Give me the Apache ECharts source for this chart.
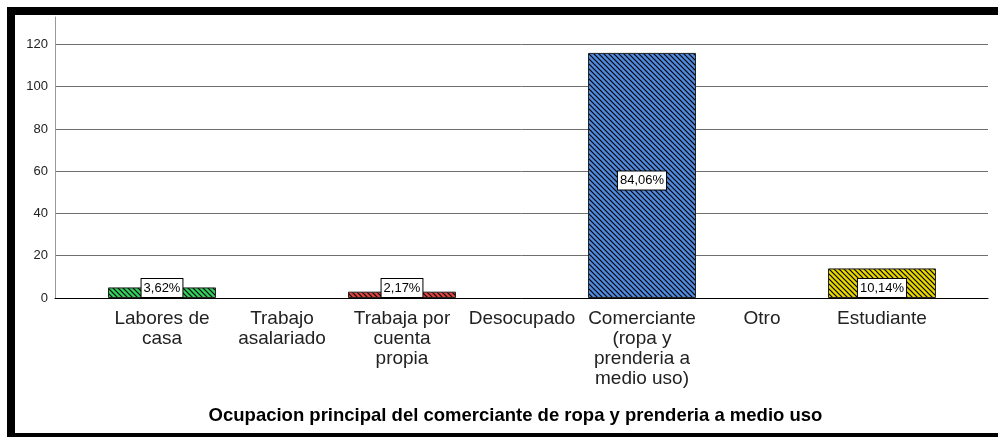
<!DOCTYPE html>
<html>
<head>
<meta charset="utf-8">
<script src="https://cdn.jsdelivr.net/npm/echarts@6/dist/echarts.min.js"></script>
<style>
  html, body { margin: 0; padding: 0; background: #fff; overflow: hidden; width: 998px; height: 437px; }
  #chart { position: absolute; left: 0; top: 0; width: 998px; height: 437px; }
  .bar-edge { position: absolute; background: #000; pointer-events: none; }
  .edge-left { left: 7px; top: 7px; width: 8px; height: 430px; }
  .edge-top { left: 7px; top: 7px; width: 991px; height: 8px; }
  .edge-bottom { left: 7px; top: 433px; width: 991px; height: 4px; }
</style>
</head>
<body>
<div id="chart"></div>
<div class="bar-edge edge-left"></div>
<div class="bar-edge edge-top"></div>
<div class="bar-edge edge-bottom"></div>
<script>
  const categories = [
    'Labores de\ncasa',
    'Trabajo\nasalariado',
    'Trabaja por\ncuenta\npropia',
    'Desocupado',
    'Comerciante\n(ropa y\nprenderia a\nmedio uso)',
    'Otro',
    'Estudiante'
  ];
  const counts = [5, 0, 3, 0, 116, 0, 14];
  const barColors = ['#33d25e', '#33d25e', '#e4423d', '#888888', '#4f8be0', '#888888', '#e8d800'];
  const yTicks = [0, 20, 40, 60, 80, 100, 120];
  const xTitle = 'Ocupacion principal del comerciante de ropa y prenderia a medio uso';

  const total = counts.reduce((a, b) => a + b, 0);

  // diagonal black hatching on a coloured fill
  function hatch(bg) {
    const s = 5;
    const c = document.createElement('canvas');
    c.width = s; c.height = s;
    const ctx = c.getContext('2d');
    ctx.fillStyle = bg;
    ctx.fillRect(0, 0, s, s);
    ctx.strokeStyle = '#000';
    ctx.lineWidth = 1.2;
    ctx.beginPath();
    ctx.moveTo(-1, -1); ctx.lineTo(s + 1, s + 1);
    ctx.moveTo(-1, s - 1); ctx.lineTo(1, s + 1);
    ctx.moveTo(s - 1, -1); ctx.lineTo(s + 1, 1);
    ctx.stroke();
    return {image: c, repeat: 'repeat'};
  }

  const font = '"Liberation Sans", Arial, sans-serif';
  const yMax = 133;

  const barData = counts.map((v, i) => {
    const big = v > 40;
    return {
      value: v,
      itemStyle: {color: hatch(barColors[i]), borderColor: '#222', borderWidth: v > 0 ? 1 : 0},
      label: {
        show: v > 0,
        position: big ? 'inside' : 'insideBottom',
        distance: 1,
        offset: big ? [0, 5] : [0, 0]
      }
    };
  });

  const chart = echarts.init(document.getElementById('chart'), null, {renderer: 'canvas'});
  chart.setOption({
    backgroundColor: '#fff',
    animation: false,
    grid: [
      {left: 55, right: 10, top: 17, bottom: 139},
      {left: 102, right: 56, top: 17, bottom: 139}
    ],
    xAxis: [
      {
        type: 'category', gridIndex: 0, data: [''],
        axisLine: {lineStyle: {color: '#000', width: 1}},
        axisTick: {show: false}, axisLabel: {show: false},
        name: xTitle, nameLocation: 'middle', nameGap: 108,
        nameTextStyle: {
          fontFamily: font, fontSize: 18.5, fontWeight: 'bold', color: '#000',
          padding: [0, 12, 0, 0]
        }
      },
      {
        type: 'category', gridIndex: 1, data: categories,
        axisLine: {show: false}, axisTick: {show: false},
        axisLabel: {
          interval: 0, margin: 11, fontFamily: font, fontSize: 19,
          lineHeight: 20, color: '#222', verticalAlign: 'top'
        }
      }
    ],
    yAxis: [
      {
        type: 'value', gridIndex: 0, min: 0, max: yMax, interval: 20,
        axisLine: {show: true, lineStyle: {color: '#999'}},
        axisTick: {show: false},
        axisLabel: {
          margin: 7, fontFamily: font, fontSize: 13, color: '#222',
          showMaxLabel: false,
          formatter: v => (yTicks.indexOf(v) >= 0 ? String(v) : '')
        },
        splitLine: {show: true, showMaxLine: false, lineStyle: {color: '#6e6e6e', width: 1}}
      },
      {
        type: 'value', gridIndex: 1, min: 0, max: yMax, show: false,
        splitLine: {show: false}
      }
    ],
    series: [{
      type: 'bar',
      xAxisIndex: 1, yAxisIndex: 1,
      barWidth: 108,
      data: barData,
      label: {
        show: true,
        formatter: p => (p.value / total * 100).toFixed(2).replace('.', ',') + '%',
        fontFamily: font, fontSize: 13, color: '#000',
        backgroundColor: '#fff', borderColor: '#000', borderWidth: 1,
        padding: [3, 2, 2, 2]
      }
    }]
  });
</script>
</body>
</html>
